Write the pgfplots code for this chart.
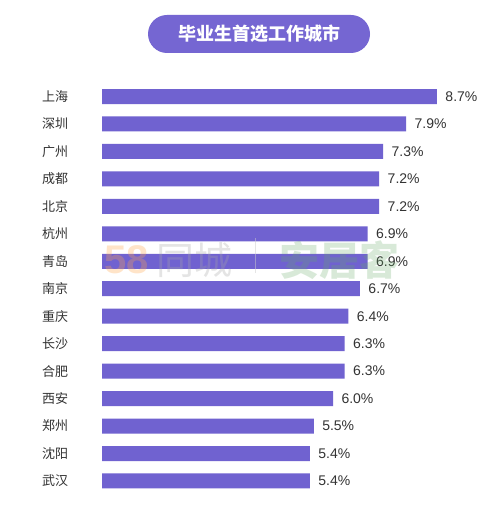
\documentclass[border=0pt]{standalone}
\usepackage{pgfplots}
\pgfplotsset{compat=1.18}
\usepackage{fontspec}
\setmainfont{Noto Sans CJK SC}
\newfontfamily\cjk{Noto Sans CJK SC}
\newfontfamily\numfont{Liberation Sans}
\definecolor{barc}{HTML}{7062D0}
\definecolor{pill}{HTML}{7566D2}
\definecolor{txt}{HTML}{333333}
\begin{document}
\begin{tikzpicture}
\useasboundingbox (0pt,0pt) rectangle (492pt,510pt);
\fill[white] (0pt,0pt) rectangle (492pt,510pt);
% title pill
\fill[pill, rounded corners=19pt] (148pt,457pt) rectangle (370pt,495pt);
\node[text=white, font=\cjk\fontsize{18}{20}\selectfont\bfseries] at (259pt,476pt) {毕业生首选工作城市};
\begin{axis}[
  at={(102pt,427.2pt)}, anchor=north west,
  scale only axis, width=385pt, height=411.9pt,
  xmin=0, xmax=10, ymin=-0.5, ymax=14.5, y dir=reverse,
  axis line style={draw=none}, tick style={draw=none},
  xtick=\empty,
  ytick={0,...,14},
  yticklabels={上海,深圳,广州,成都,北京,杭州,青岛,南京,重庆,长沙,合肥,西安,郑州,沈阳,武汉},
  yticklabel style={font=\cjk\fontsize{13}{15}\selectfont, text=txt, xshift=-26pt},
  xbar, bar width=15pt, bar shift=0pt,
  clip=false,
  /pgf/number format/assume math mode=true,
  nodes near coords={\pgfmathprintnumber[fixed,fixed zerofill,precision=1,assume math mode=true]{\pgfplotspointmeta}\%},
  nodes near coords style={font=\numfont\fontsize{14}{16}\selectfont, text=txt, anchor=west, xshift=5pt},
  point meta=explicit,
]
\addplot[fill=barc, draw=none] table[x=v, y=i, meta=v] {
i v
0 8.7
1 7.9
2 7.3
3 7.2
4 7.2
5 6.9
6 6.9
7 6.7
8 6.4
9 6.3
10 6.3
11 6.0
12 5.5
13 5.4
14 5.4
};
\end{axis}
% watermark
\node[anchor=west, font=\numfont\fontsize{40}{42}\selectfont\bfseries, text=orange!70, opacity=0.3] at (101pt,250pt) {58};
\node[anchor=west, font=\cjk\fontsize{38}{40}\selectfont, text=gray!70, opacity=0.3] at (153pt,250pt) {同城};
\draw[gray!40, opacity=0.5] (255pt,237pt) -- (255pt,272pt);
\node[anchor=west, font=\cjk\fontsize{40}{42}\selectfont\bfseries, text=green!45!black!60, opacity=0.25] at (276pt,250pt) {安居客};
\end{tikzpicture}
\end{document}
